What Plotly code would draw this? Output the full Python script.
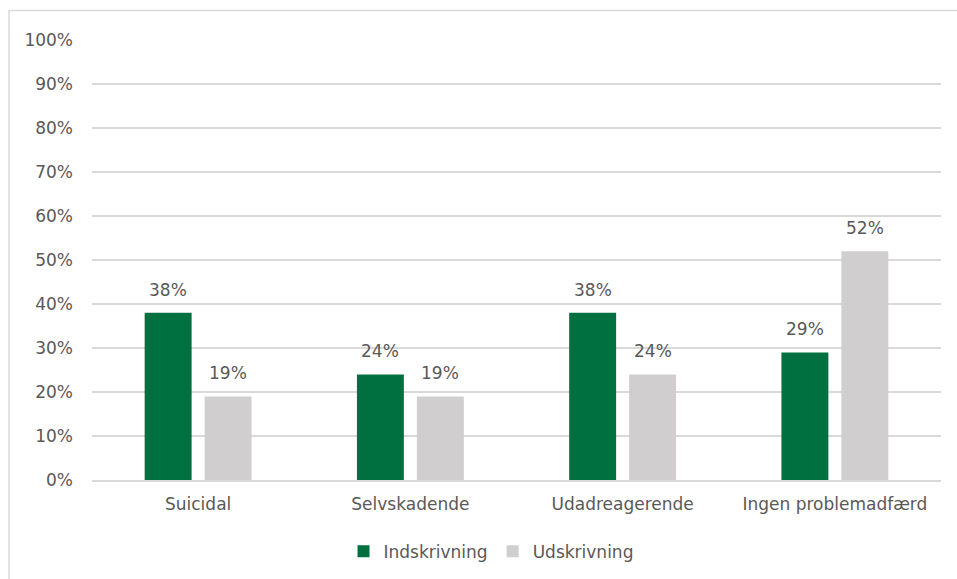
import plotly.graph_objects as go

categories = ["Suicidal", "Selvskadende", "Udadreagerende", "Ingen problemadfærd"]
indskrivning = [38, 24, 38, 29]
udskrivning = [19, 19, 24, 52]
series_names = ["Indskrivning", "Udskrivning"]
y_ticks = list(range(0, 101, 10))

GREEN = "#007041"
GRAY = "#D0CECE"
TEXT = "#595959"
GRID = "#D9D9D9"
FONT = "DejaVu Sans"
FS = 17

fig = go.Figure()
for name, vals, color in zip(series_names, [indskrivning, udskrivning], [GREEN, GRAY]):
    fig.add_trace(go.Bar(x=categories, y=vals, name=name, marker_color=color,
                         marker_line_width=0, hoverinfo="skip"))

# value labels above each bar
offsets = [-30, 30]
for vals, dx in zip([indskrivning, udskrivning], offsets):
    for cat, v in zip(categories, vals):
        fig.add_annotation(x=cat, y=v, text=f"{v}%", showarrow=False,
                           xshift=dx, yshift=23, yanchor="middle",
                           font=dict(family=FONT, size=FS, color=TEXT))

# chart frame
fig.add_shape(type="rect", xref="paper", yref="paper",
              x0=(9 - 92) / 849, x1=(962 - 92) / 849,
              y0=(480 - 590) / 440, y1=(480 - 10.5) / 440,
              line=dict(color=GRID, width=1.5), fillcolor="rgba(0,0,0,0)", layer="below")

fig.update_layout(
    width=957, height=579,
    margin=dict(l=92, r=16, t=40, b=99, autoexpand=False),
    paper_bgcolor="white", plot_bgcolor="white",
    barmode="group", bargap=0.435, bargroupgap=0.217,
    font=dict(family=FONT, size=FS, color=TEXT),
    showlegend=True,
    legend=dict(orientation="h", x=0.47, xanchor="center", y=-0.122, yanchor="top",
                font=dict(family=FONT, size=FS, color=TEXT), itemwidth=30,
                traceorder="normal"),
    xaxis=dict(showgrid=False, showline=True, linecolor=GRID, linewidth=1.5,
               ticks="", tickfont=dict(size=FS, color=TEXT), ticklabelstandoff=8,
               automargin=False),
    yaxis=dict(range=[0, 100], tickvals=y_ticks, ticktext=[f"{t}%" for t in y_ticks],
               showgrid=True, gridcolor=GRID, gridwidth=1.5, zeroline=False,
               showline=False, ticks="", ticklabelstandoff=18, automargin=False,
               tickfont=dict(size=FS, color=TEXT)),
)

fig.write_html("out.html")
